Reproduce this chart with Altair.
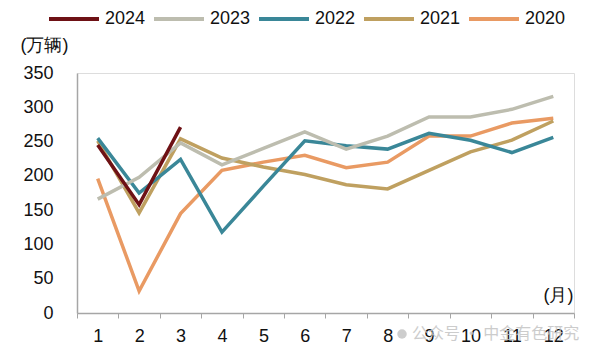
import altair as alt
import pandas as pd

months = list(range(1, 13))
years = ["2024", "2023", "2022", "2021", "2020"]
colors = ["#6E1115", "#BDBDAF", "#3A8798", "#BFA060", "#E99A63"]

v2024 = [245, 158, 271]
v2023 = [166, 198, 248, 216, 240, 264, 239, 258, 286, 286, 297, 316]
v2022 = [255, 175, 224, 118, 185, 251, 244, 239, 262, 252, 234, 256]
v2021 = [251, 146, 254, 226, 213, 202, 187, 181, 208, 235, 252, 280]
v2020 = [196, 32, 145, 208, 220, 230, 212, 220, 258, 258, 277, 284]

series = {"2020": v2020, "2021": v2021, "2022": v2022, "2023": v2023, "2024": v2024}
rows = []
for yr, vals in series.items():
    for m, v in zip(months, vals):
        rows.append({"month": m, "year": yr, "value": v})
df = pd.DataFrame(rows)

FONT = "Liberation Sans"

lines = alt.Chart(df).mark_line(strokeWidth=3.5, strokeCap="butt", strokeJoin="miter").encode(
    x=alt.X("month:O",
            scale=alt.Scale(type="band", paddingInner=0, paddingOuter=0),
            bandPosition=0.5,
            axis=alt.Axis(title="(月)", titleX=496, titleY=-18, titleAlign="right",
                          titleBaseline="middle", titleFontWeight="normal", titleFontSize=18,
                          titleFont=FONT, titleColor="#111111",
                          labelAngle=0, labelFontSize=18, labelFont=FONT, labelColor="#111111",
                          labelPadding=9, tickSize=5, tickColor="#A6A6A6", tickBand="extent",
                          domainColor="#A6A6A6", domainWidth=1.5, grid=False)),
    y=alt.Y("value:Q",
            scale=alt.Scale(domain=[0, 350], nice=False),
            axis=alt.Axis(values=list(range(0, 351, 50)), title="(万辆)", titleAngle=0,
                          titleX=-57, titleY=-28, titleAlign="left", titleBaseline="middle",
                          titleFontWeight="normal", titleFontSize=18, titleFont=FONT,
                          titleColor="#111111",
                          labelFontSize=18, labelFont=FONT, labelColor="#111111",
                          labelPadding=24, ticks=False, tickSize=0,
                          domainColor="#A6A6A6", domainWidth=1.5, grid=False)),
    color=alt.Color("year:N",
                    scale=alt.Scale(domain=years, range=colors),
                    legend=alt.Legend(title=None, orient="none", legendX=-30, legendY=-81,
                                      direction="horizontal", columns=5,
                                      symbolType="stroke", symbolSize=2500,
                                      symbolStrokeWidth=4, labelFontSize=18, labelFont=FONT,
                                      labelColor="#111111", labelOffset=4, columnPadding=0)),
)

wm_df = pd.DataFrame({"t": ["公众号 · 中金有色研究"]})
wm = alt.Chart(wm_df).mark_text(
    align="left", baseline="middle", fontSize=16, font="Noto Sans CJK SC",
    color="#C4C4C4", opacity=0.85
).encode(x=alt.value(335), y=alt.value(261), text="t:N")
icon = alt.Chart(wm_df).mark_point(
    shape="circle", filled=True, size=90, color="#C4C4C4", opacity=0.85
).encode(x=alt.value(325), y=alt.value(261))

chart = alt.layer(lines, icon, wm).properties(
    width=497, height=240,
    autosize=alt.AutoSizeParams(type="none"),
    padding={"left": 77, "top": 73, "right": 20, "bottom": 42},
).configure_view(stroke=None).configure(background="white")

chart.save("out.html", embed_options={"renderer": "svg", "actions": False})
